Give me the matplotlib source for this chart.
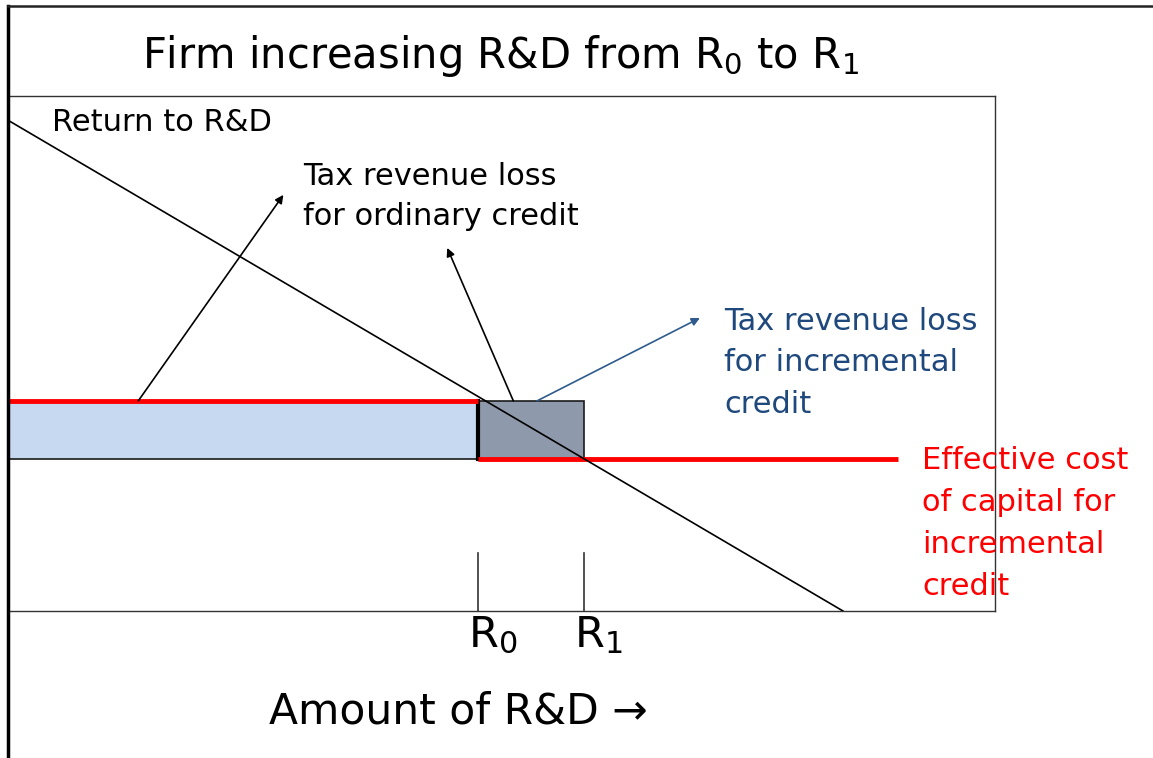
import matplotlib
matplotlib.use("Agg")
import matplotlib.pyplot as plt
from matplotlib.patches import Rectangle
from matplotlib.lines import Line2D

plt.rcParams['font.family'] = ['DejaVu Sans']
plt.rcParams['mathtext.default'] = 'regular'

# ---- data (conceptual units: x = amount of R&D, y = cost / return) ----
x_range = [0, 100]
y_range = [0, 100]
R0 = 47.6
R1 = 58.4
cost_ordinary = 40.8      # cost of capital before incremental credit
cost_incremental = 29.5   # effective cost of capital for incremental credit
red_line_end = 90.2
return_line_x = [0, 84.6]
return_line_y = [95.3, 0]
tick_len = 11.3
arrow_tails = [(13.2, 40.8), (51.2, 40.8), (53.6, 40.8)]
arrow_heads = [(27.9, 80.8), (44.5, 70.5), (70.1, 56.9)]

title = 'Firm increasing R&D from R$_0$ to R$_1$'
return_label = 'Return to R&D'
ordinary_label = ['Tax revenue loss', 'for ordinary credit']
incremental_label = ['Tax revenue loss', 'for incremental', 'credit']
cost_label = ['Effective cost', 'of capital for', 'incremental', 'credit']
tick_labels = ['R$_0$', 'R$_1$']
xlabel = 'Amount of R&D \u2192'

W, H = 1153, 758
fig = plt.figure(figsize=(W / 100, H / 100), dpi=100)

def fx(px):
    return px / W

def fy(py):
    return 1 - py / H

ax = fig.add_axes([fx(8), fy(611), (995 - 8) / W, (611 - 96) / H])
ax.set_xlim(*x_range)
ax.set_ylim(*y_range)
ax.set_xticks([])
ax.set_yticks([])
for s in ax.spines.values():
    s.set_color('#333333')
    s.set_linewidth(1.0)
ax.spines['left'].set_visible(False)

# shaded rectangles
ax.add_patch(Rectangle((0, cost_incremental), R0, cost_ordinary - cost_incremental,
                       facecolor='#C6D9F0', edgecolor='#1a1a1a', linewidth=1.2, zorder=1))
ax.add_patch(Rectangle((R0, cost_incremental), R1 - R0, cost_ordinary - cost_incremental,
                       facecolor='#8E9AAB', edgecolor='#1a1a1a', linewidth=1.2, zorder=1))
ax.plot([R0, R0], [cost_incremental, cost_ordinary], color='black', lw=3, zorder=3)

# red cost lines
ax.plot([0, R0], [cost_ordinary, cost_ordinary], color='#FF0000', lw=3.5, zorder=4,
        solid_capstyle='butt')
ax.plot([R0, red_line_end], [cost_incremental, cost_incremental], color='#FF0000', lw=3.5,
        zorder=4, solid_capstyle='butt')

# return line
ax.plot(return_line_x, return_line_y, color='black', lw=1.2, zorder=5)

# tick marks at R0, R1
for r in (R0, R1):
    ax.plot([r, r], [0, tick_len], color='#333333', lw=1.2, zorder=2)

# arrows
colors = ['black', 'black', '#2E5B8C']
for (t, h, c) in zip(arrow_tails, arrow_heads, colors):
    ax.annotate('', xy=h, xytext=t,
                arrowprops=dict(arrowstyle='-|>', color=c, lw=1.2, mutation_scale=12,
                                shrinkA=0, shrinkB=0), zorder=6)

# outer frame lines
fig.add_artist(Line2D([fx(8), fx(8)], [fy(6), 0], color='black', lw=2.5))
fig.add_artist(Line2D([fx(8), 1], [fy(6), fy(6)], color='#222222', lw=1.8))

def lines_text(x, y0, step, lines, **kw):
    for i, s in enumerate(lines):
        fig.text(fx(x), fy(y0 + i * step), s, ha='left', va='baseline', **kw)

# texts
fig.text(fx(500), fy(68), title, fontsize=30, ha='center', va='baseline')
fig.text(fx(52), fy(131), return_label, fontsize=22, ha='left', va='baseline')
lines_text(303, 185, 40, ordinary_label, fontsize=22)
lines_text(724, 330, 41.5, incremental_label, fontsize=22, color='#1F497D')
lines_text(922, 469, 42, cost_label, fontsize=22, color='#FF0000')
fig.text(fx(468), fy(647), tick_labels[0], fontsize=31, ha='left', va='baseline')
fig.text(fx(574), fy(647), tick_labels[1], fontsize=31, ha='left', va='baseline')
fig.text(fx(458), fy(723), xlabel, fontsize=30.5, ha='center', va='baseline')

fig.savefig('out.png', dpi=100)
